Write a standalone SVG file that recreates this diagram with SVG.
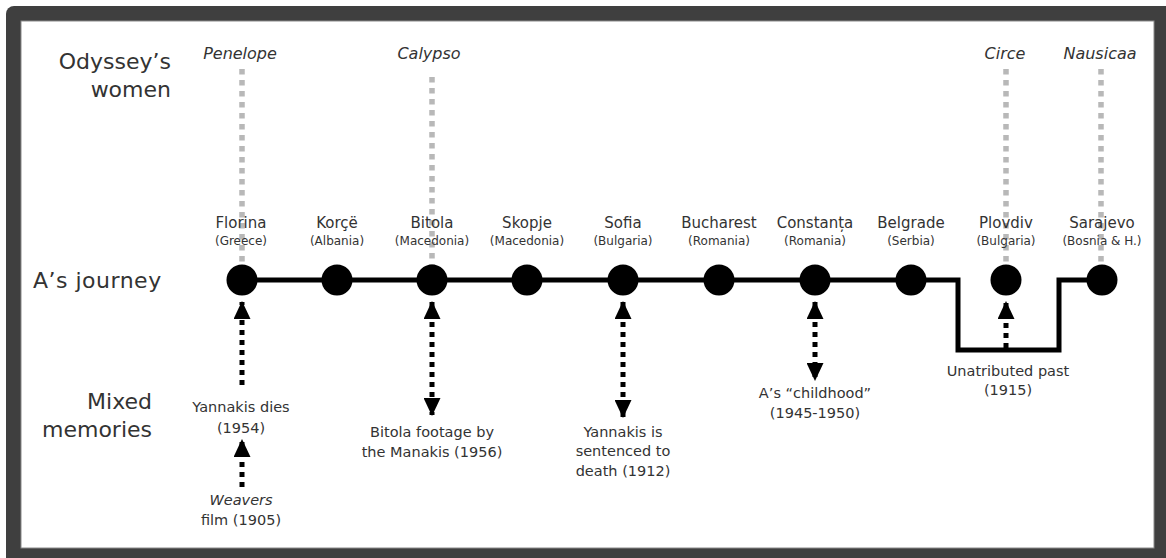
<svg xmlns="http://www.w3.org/2000/svg" width="1166" height="558" viewBox="0 0 1166 558">
<defs>
<marker id="ah" viewBox="0 0 18 17" refX="17" refY="8.5" markerWidth="18" markerHeight="17" markerUnits="userSpaceOnUse" orient="auto-start-reverse">
<path d="M0,0 L18,8.5 L0,17 Z" fill="#000"/>
</marker>
<style>
text{font-family:"DejaVu Sans","Liberation Sans",sans-serif;fill:#333;text-anchor:middle}
.row{font-size:22px;text-anchor:end}
.row2{font-size:22px;text-anchor:start;letter-spacing:0.5px}
.wom{font-size:16px;font-style:italic}
.city{font-size:15px}
.cty{font-size:12px}
.mem{font-size:14.5px}
.gray{stroke:#b8b8b8;stroke-width:5.5;stroke-dasharray:5.5 5.5;fill:none}
.route{stroke:#000;stroke-width:5;fill:none}
.arr{stroke:#000;stroke-width:5;stroke-dasharray:5 5;fill:none}
.node{fill:#000}
</style>
</defs>
<g id="frame">
<rect x="6" y="6" width="1170" height="562" rx="8" fill="#3f3f3f"/>
<rect x="21" y="21" width="1133" height="527" fill="#fff" stroke="#8a8a8a" stroke-width="1"/>
</g>
<g id="row-labels">
<text class="row" x="171" y="69">Odyssey’s</text>
<text class="row" x="171" y="97">women</text>
<text class="row2" x="33" y="288">A’s journey</text>
<text class="row" x="152" y="409">Mixed</text>
<text class="row" x="152" y="437">memories</text>
</g>
<g id="women-links">
<line class="gray" x1="242" y1="69" x2="242" y2="270"/>
<line class="gray" x1="432" y1="77" x2="432" y2="270"/>
<line class="gray" x1="1006" y1="69" x2="1006" y2="270"/>
<line class="gray" x1="1101" y1="69" x2="1101" y2="270"/>
</g>
<g id="women">
<text class="wom" x="240" y="59">Penelope</text>
<text class="wom" x="429" y="59">Calypso</text>
<text class="wom" x="1005" y="59">Circe</text>
<text class="wom" x="1100" y="59">Nausicaa</text>
</g>
<g id="connectors">
<path class="route" d="M242,280 H958 V350 H1059 V280 H1101"/>
<line class="arr" x1="242" y1="385" x2="242" y2="302" marker-end="url(#ah)"/>
<line class="arr" x1="242" y1="487" x2="242" y2="440" marker-end="url(#ah)"/>
<line class="arr" x1="432" y1="302" x2="432" y2="415" marker-start="url(#ah)" marker-end="url(#ah)"/>
<line class="arr" x1="623" y1="302" x2="623" y2="417" marker-start="url(#ah)" marker-end="url(#ah)"/>
<line class="arr" x1="815" y1="302" x2="815" y2="380" marker-start="url(#ah)" marker-end="url(#ah)"/>
<line class="arr" x1="1006" y1="348" x2="1006" y2="302" marker-end="url(#ah)"/>
</g>
<g id="florina"><circle class="node" cx="242" cy="280" r="15.5"/><text class="city" x="241" y="228">Florina</text><text class="cty" x="241" y="245">(Greece)</text></g>
<g id="korce"><circle class="node" cx="337" cy="280" r="15.5"/><text class="city" x="337" y="228">Korçë</text><text class="cty" x="337" y="245">(Albania)</text></g>
<g id="bitola"><circle class="node" cx="432" cy="280" r="15.5"/><text class="city" x="432" y="228">Bitola</text><text class="cty" x="432" y="245">(Macedonia)</text></g>
<g id="skopje"><circle class="node" cx="527" cy="280" r="15.5"/><text class="city" x="527" y="228">Skopje</text><text class="cty" x="527" y="245">(Macedonia)</text></g>
<g id="sofia"><circle class="node" cx="623" cy="280" r="15.5"/><text class="city" x="623" y="228">Sofia</text><text class="cty" x="623" y="245">(Bulgaria)</text></g>
<g id="bucharest"><circle class="node" cx="719" cy="280" r="15.5"/><text class="city" x="719" y="228">Bucharest</text><text class="cty" x="719" y="245">(Romania)</text></g>
<g id="constanta"><circle class="node" cx="815" cy="280" r="15.5"/><text class="city" x="815" y="228">Constanța</text><text class="cty" x="815" y="245">(Romania)</text></g>
<g id="belgrade"><circle class="node" cx="911" cy="280" r="15.5"/><text class="city" x="911" y="228">Belgrade</text><text class="cty" x="911" y="245">(Serbia)</text></g>
<g id="plovdiv"><circle class="node" cx="1006" cy="280" r="15.5"/><text class="city" x="1006" y="228">Plovdiv</text><text class="cty" x="1006" y="245">(Bulgaria)</text></g>
<g id="sarajevo"><circle class="node" cx="1102" cy="280" r="15.5"/><text class="city" x="1102" y="228">Sarajevo</text><text class="cty" x="1102" y="245">(Bosnia &amp; H.)</text></g>
<g id="mem-yannakis-dies"><text class="mem" x="241" y="412">Yannakis dies</text><text class="mem" x="241" y="433">(1954)</text></g>
<g id="mem-weavers"><text class="mem" x="241" y="505"><tspan font-style="italic">Weavers</tspan></text><text class="mem" x="241" y="525">film (1905)</text></g>
<g id="mem-bitola"><text class="mem" x="432" y="437">Bitola footage by</text><text class="mem" x="432" y="457">the Manakis (1956)</text></g>
<g id="mem-sentenced"><text class="mem" x="623" y="437">Yannakis is</text><text class="mem" x="623" y="456">sentenced to</text><text class="mem" x="623" y="476">death (1912)</text></g>
<g id="mem-childhood"><text class="mem" x="815" y="398">A’s “childhood”</text><text class="mem" x="815" y="418">(1945-1950)</text></g>
<g id="mem-unatributed"><text class="mem" x="1008" y="376">Unatributed past</text><text class="mem" x="1008" y="395">(1915)</text></g>
</svg>
